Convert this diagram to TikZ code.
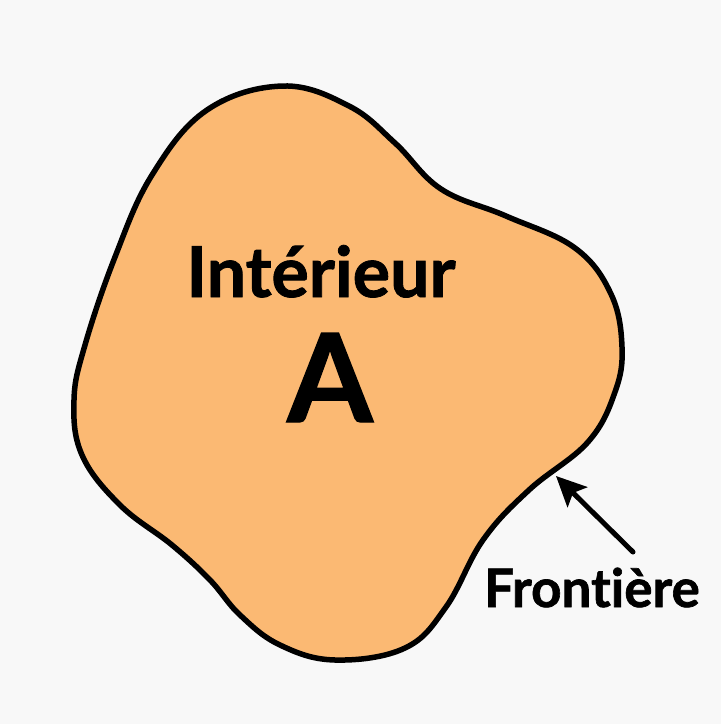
\documentclass[tikz,border=0pt]{standalone}
\usepackage{fontspec}
\setmainfont{Lato}[Ligatures=NoCommon, BoldFeatures={FakeBold=1.2, Ligatures=NoCommon}]
\usetikzlibrary{arrows.meta}
\definecolor{paper}{HTML}{F8F8F8}
\definecolor{interior}{HTML}{FBB973}
\begin{document}
\begin{tikzpicture}[x=1pt,y=-1pt,
  outline/.style={line width=5.5pt, line join=round, draw=black, fill=interior},
  label/.style={font=\bfseries, text=black, inner sep=0pt, anchor=base},
  pointer/.style={line width=5pt, line cap=round, -{Stealth[length=30pt,width=28pt,inset=6pt]}}]
  % page
  \fill[paper] (0,0) rectangle (721,724);
  \useasboundingbox (0,0) rectangle (721,724);
  % the set A
  \draw[outline] plot[smooth cycle, tension=0.65] coordinates {
    (283,86) (207,110) (152,175) (115,257) (85,345) (74,400) (82,455)
    (120,505) (172,545) (210,580) (240,615) (280,645) (335,660) (405,648)
    (446,607) (483,540) (529,490) (588,442) (615,392) (622,347)
    (611,294) (575,248) (506,216) (441,189) (395,143) (349,106)};
  % labels
  \node[label, font=\bfseries\fontsize{70}{80}\selectfont] (int) at (321,297) {Intérieur};
  \node[label, font=\bfseries\fontsize{123}{130}\selectfont] (setA) at (330,422) {A};
  \node[label, font=\bfseries\fontsize{53}{60}\selectfont] (front) at (592,607) {Frontière};
  % arrow onto the boundary
  \coordinate (tail) at (633,552);
  \coordinate (tip) at (556,476);
  \draw[pointer] (tail) -- (tip);
\end{tikzpicture}
\end{document}
